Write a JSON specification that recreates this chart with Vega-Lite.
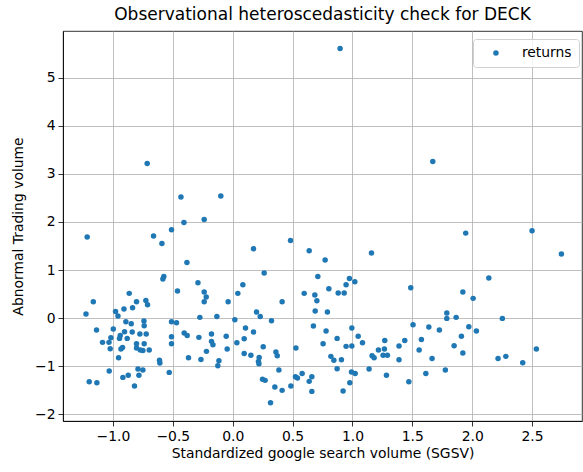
{
  "$schema": "https://vega.github.io/schema/vega-lite/v6.json",
  "autosize": "none",
  "width": 519,
  "height": 390,
  "padding": {"left": 63, "top": 31, "right": 1, "bottom": 51},
  "background": "white",
  "title": {
    "text": "Observational heteroscedasticity check for DECK",
    "font": "DejaVu Sans",
    "fontSize": 17,
    "fontWeight": "normal",
    "color": "black",
    "offset": 7
  },
  "config": {
    "view": {"stroke": "black", "strokeWidth": 0.8},
    "axis": {
      "labelFont": "DejaVu Sans",
      "titleFont": "DejaVu Sans",
      "labelFontSize": 13.9,
      "titleFontSize": 13.9,
      "titleFontWeight": "normal",
      "labelColor": "black",
      "titleColor": "black",
      "domainColor": "black",
      "domainWidth": 0.8,
      "tickColor": "black",
      "tickWidth": 0.8,
      "tickSize": 5,
      "labelPadding": 3,
      "gridColor": "#b0b0b0",
      "gridWidth": 0.8
    }
  },
  "data": {
    "values": [
      {"x": 0.897, "y": 5.607, "series": "returns"},
      {"x": -0.714, "y": 3.216, "series": "returns"},
      {"x": -0.432, "y": 2.516, "series": "returns"},
      {"x": -0.407, "y": 1.99, "series": "returns"},
      {"x": -0.511, "y": 1.838, "series": "returns"},
      {"x": -1.215, "y": 1.684, "series": "returns"},
      {"x": -0.661, "y": 1.705, "series": "returns"},
      {"x": -0.591, "y": 1.553, "series": "returns"},
      {"x": -0.382, "y": 1.158, "series": "returns"},
      {"x": -0.575, "y": 0.867, "series": "returns"},
      {"x": -0.583, "y": 0.811, "series": "returns"},
      {"x": -0.099, "y": 2.537, "series": "returns"},
      {"x": -0.238, "y": 2.052, "series": "returns"},
      {"x": 0.483, "y": 1.615, "series": "returns"},
      {"x": 0.174, "y": 1.442, "series": "returns"},
      {"x": 0.639, "y": 1.4, "series": "returns"},
      {"x": 0.263, "y": 0.936, "series": "returns"},
      {"x": -0.29, "y": 0.735, "series": "returns"},
      {"x": 0.085, "y": 0.694, "series": "returns"},
      {"x": 1.671, "y": 3.258, "series": "returns"},
      {"x": 1.159, "y": 1.352, "series": "returns"},
      {"x": 0.772, "y": 1.206, "series": "returns"},
      {"x": 0.711, "y": 0.867, "series": "returns"},
      {"x": 0.975, "y": 0.825, "series": "returns"},
      {"x": 1.02, "y": 0.757, "series": "returns"},
      {"x": 0.947, "y": 0.694, "series": "returns"},
      {"x": 1.946, "y": 1.767, "series": "returns"},
      {"x": 2.5, "y": 1.817, "series": "returns"},
      {"x": 2.745, "y": 1.331, "series": "returns"},
      {"x": 2.139, "y": 0.832, "series": "returns"},
      {"x": -0.461, "y": 0.561, "series": "returns"},
      {"x": -0.864, "y": 0.514, "series": "returns"},
      {"x": -1.164, "y": 0.341, "series": "returns"},
      {"x": -0.803, "y": 0.341, "series": "returns"},
      {"x": -0.725, "y": 0.368, "series": "returns"},
      {"x": -0.711, "y": 0.279, "series": "returns"},
      {"x": -0.908, "y": 0.187, "series": "returns"},
      {"x": -0.836, "y": 0.216, "series": "returns"},
      {"x": -0.978, "y": 0.139, "series": "returns"},
      {"x": -1.225, "y": 0.083, "series": "returns"},
      {"x": -0.958, "y": 0.042, "series": "returns"},
      {"x": -0.892, "y": -0.075, "series": "returns"},
      {"x": -0.847, "y": -0.117, "series": "returns"},
      {"x": -0.741, "y": -0.062, "series": "returns"},
      {"x": -0.739, "y": -0.158, "series": "returns"},
      {"x": -0.511, "y": -0.075, "series": "returns"},
      {"x": -0.469, "y": -0.096, "series": "returns"},
      {"x": -1.137, "y": -0.249, "series": "returns"},
      {"x": -0.997, "y": -0.229, "series": "returns"},
      {"x": -0.903, "y": -0.283, "series": "returns"},
      {"x": -0.839, "y": -0.291, "series": "returns"},
      {"x": -0.939, "y": -0.36, "series": "returns"},
      {"x": -0.775, "y": -0.333, "series": "returns"},
      {"x": -0.722, "y": -0.333, "series": "returns"},
      {"x": -0.405, "y": -0.312, "series": "returns"},
      {"x": -0.38, "y": -0.36, "series": "returns"},
      {"x": -0.511, "y": -0.387, "series": "returns"},
      {"x": -1.017, "y": -0.408, "series": "returns"},
      {"x": -0.945, "y": -0.422, "series": "returns"},
      {"x": -0.881, "y": -0.422, "series": "returns"},
      {"x": -1.087, "y": -0.505, "series": "returns"},
      {"x": -1.033, "y": -0.505, "series": "returns"},
      {"x": -0.803, "y": -0.532, "series": "returns"},
      {"x": -0.739, "y": -0.532, "series": "returns"},
      {"x": -0.511, "y": -0.532, "series": "returns"},
      {"x": -1.023, "y": -0.636, "series": "returns"},
      {"x": -0.92, "y": -0.609, "series": "returns"},
      {"x": -0.933, "y": -0.644, "series": "returns"},
      {"x": -0.803, "y": -0.624, "series": "returns"},
      {"x": -0.772, "y": -0.665, "series": "returns"},
      {"x": -0.75, "y": -0.672, "series": "returns"},
      {"x": -0.697, "y": -0.665, "series": "returns"},
      {"x": -0.953, "y": -0.823, "series": "returns"},
      {"x": -0.611, "y": -0.879, "series": "returns"},
      {"x": -0.608, "y": -0.936, "series": "returns"},
      {"x": -0.369, "y": -0.823, "series": "returns"},
      {"x": -1.031, "y": -1.102, "series": "returns"},
      {"x": -0.791, "y": -1.06, "series": "returns"},
      {"x": -0.75, "y": -1.081, "series": "returns"},
      {"x": -0.53, "y": -1.129, "series": "returns"},
      {"x": -0.783, "y": -1.191, "series": "returns"},
      {"x": -0.872, "y": -1.191, "series": "returns"},
      {"x": -0.917, "y": -1.233, "series": "returns"},
      {"x": -1.198, "y": -1.323, "series": "returns"},
      {"x": -1.134, "y": -1.344, "series": "returns"},
      {"x": -0.82, "y": -1.413, "series": "returns"},
      {"x": -0.238, "y": 0.541, "series": "returns"},
      {"x": -0.221, "y": 0.437, "series": "returns"},
      {"x": -0.238, "y": 0.341, "series": "returns"},
      {"x": 0.043, "y": 0.514, "series": "returns"},
      {"x": -0.038, "y": 0.341, "series": "returns"},
      {"x": 0.413, "y": 0.341, "series": "returns"},
      {"x": 0.597, "y": 0.514, "series": "returns"},
      {"x": 0.686, "y": 0.478, "series": "returns"},
      {"x": 0.199, "y": 0.125, "series": "returns"},
      {"x": 0.23, "y": 0.035, "series": "returns"},
      {"x": -0.274, "y": 0.015, "series": "returns"},
      {"x": -0.132, "y": 0.035, "series": "returns"},
      {"x": 0.018, "y": -0.033, "series": "returns"},
      {"x": 0.324, "y": -0.054, "series": "returns"},
      {"x": 0.674, "y": -0.166, "series": "returns"},
      {"x": 0.107, "y": -0.208, "series": "returns"},
      {"x": 0.174, "y": -0.291, "series": "returns"},
      {"x": -0.282, "y": -0.401, "series": "returns"},
      {"x": -0.177, "y": -0.333, "series": "returns"},
      {"x": -0.054, "y": -0.38, "series": "returns"},
      {"x": -0.177, "y": -0.484, "series": "returns"},
      {"x": -0.165, "y": -0.553, "series": "returns"},
      {"x": 0.096, "y": -0.428, "series": "returns"},
      {"x": 0.035, "y": -0.512, "series": "returns"},
      {"x": 0.255, "y": -0.595, "series": "returns"},
      {"x": 0.528, "y": -0.624, "series": "returns"},
      {"x": -0.046, "y": -0.644, "series": "returns"},
      {"x": -0.219, "y": -0.692, "series": "returns"},
      {"x": 0.096, "y": -0.734, "series": "returns"},
      {"x": 0.152, "y": -0.775, "series": "returns"},
      {"x": 0.221, "y": -0.817, "series": "returns"},
      {"x": 0.361, "y": -0.707, "series": "returns"},
      {"x": 0.372, "y": -0.782, "series": "returns"},
      {"x": -0.265, "y": -0.859, "series": "returns"},
      {"x": -0.115, "y": -0.886, "series": "returns"},
      {"x": -0.124, "y": -0.99, "series": "returns"},
      {"x": 0.215, "y": -0.9, "series": "returns"},
      {"x": 0.219, "y": -0.948, "series": "returns"},
      {"x": 0.386, "y": -1.081, "series": "returns"},
      {"x": 0.249, "y": -1.274, "series": "returns"},
      {"x": 0.271, "y": -1.295, "series": "returns"},
      {"x": 0.352, "y": -1.434, "series": "returns"},
      {"x": 0.413, "y": -1.503, "series": "returns"},
      {"x": 0.486, "y": -1.413, "series": "returns"},
      {"x": 0.524, "y": -1.218, "series": "returns"},
      {"x": 0.541, "y": -1.247, "series": "returns"},
      {"x": 0.58, "y": -1.15, "series": "returns"},
      {"x": 0.639, "y": -1.316, "series": "returns"},
      {"x": 0.661, "y": -1.218, "series": "returns"},
      {"x": 0.661, "y": -1.524, "series": "returns"},
      {"x": 0.316, "y": -1.759, "series": "returns"},
      {"x": 0.703, "y": 0.362, "series": "returns"},
      {"x": 0.803, "y": 0.611, "series": "returns"},
      {"x": 0.881, "y": 0.52, "series": "returns"},
      {"x": 0.931, "y": 0.52, "series": "returns"},
      {"x": 1.487, "y": 0.632, "series": "returns"},
      {"x": 0.689, "y": 0.146, "series": "returns"},
      {"x": 0.791, "y": 0.125, "series": "returns"},
      {"x": 0.78, "y": -0.27, "series": "returns"},
      {"x": 0.995, "y": -0.208, "series": "returns"},
      {"x": 1.048, "y": -0.38, "series": "returns"},
      {"x": 1.084, "y": -0.512, "series": "returns"},
      {"x": 0.872, "y": -0.422, "series": "returns"},
      {"x": 0.755, "y": -0.532, "series": "returns"},
      {"x": 0.947, "y": -0.588, "series": "returns"},
      {"x": 0.995, "y": -0.582, "series": "returns"},
      {"x": 0.82, "y": -0.796, "series": "returns"},
      {"x": 0.845, "y": -0.879, "series": "returns"},
      {"x": 0.908, "y": -0.865, "series": "returns"},
      {"x": 0.872, "y": -1.052, "series": "returns"},
      {"x": 0.992, "y": -1.123, "series": "returns"},
      {"x": 1.023, "y": -1.15, "series": "returns"},
      {"x": 0.978, "y": -1.343, "series": "returns"},
      {"x": 0.922, "y": -1.518, "series": "returns"},
      {"x": 1.506, "y": -0.137, "series": "returns"},
      {"x": 1.638, "y": -0.187, "series": "returns"},
      {"x": 1.726, "y": -0.249, "series": "returns"},
      {"x": 1.27, "y": -0.464, "series": "returns"},
      {"x": 1.437, "y": -0.464, "series": "returns"},
      {"x": 1.576, "y": -0.443, "series": "returns"},
      {"x": 1.389, "y": -0.582, "series": "returns"},
      {"x": 1.217, "y": -0.665, "series": "returns"},
      {"x": 1.267, "y": -0.644, "series": "returns"},
      {"x": 1.557, "y": -0.665, "series": "returns"},
      {"x": 1.164, "y": -0.782, "series": "returns"},
      {"x": 1.181, "y": -0.823, "series": "returns"},
      {"x": 1.256, "y": -0.775, "series": "returns"},
      {"x": 1.292, "y": -0.775, "series": "returns"},
      {"x": 1.389, "y": -0.865, "series": "returns"},
      {"x": 1.665, "y": -0.838, "series": "returns"},
      {"x": 1.139, "y": -1.06, "series": "returns"},
      {"x": 1.284, "y": -1.191, "series": "returns"},
      {"x": 1.471, "y": -1.323, "series": "returns"},
      {"x": 1.613, "y": -1.15, "series": "returns"},
      {"x": 1.776, "y": -1.081, "series": "returns"},
      {"x": 1.788, "y": 0.104, "series": "returns"},
      {"x": 1.788, "y": -0.006, "series": "returns"},
      {"x": 1.922, "y": 0.541, "series": "returns"},
      {"x": 2.008, "y": 0.41, "series": "returns"},
      {"x": 1.866, "y": 0.015, "series": "returns"},
      {"x": 2.252, "y": -0.006, "series": "returns"},
      {"x": 1.972, "y": -0.179, "series": "returns"},
      {"x": 2.035, "y": -0.27, "series": "returns"},
      {"x": 1.91, "y": -0.38, "series": "returns"},
      {"x": 1.849, "y": -0.574, "series": "returns"},
      {"x": 1.922, "y": -0.728, "series": "returns"},
      {"x": 2.216, "y": -0.838, "series": "returns"},
      {"x": 2.281, "y": -0.796, "series": "returns"},
      {"x": 2.422, "y": -0.927, "series": "returns"},
      {"x": 2.536, "y": -0.644, "series": "returns"}
    ]
  },
  "mark": {"type": "circle", "size": 30, "opacity": 1},
  "encoding": {
    "x": {
      "field": "x",
      "type": "quantitative",
      "title": "Standardized google search volume (SGSV)",
      "scale": {"domain": [-1.417, 2.917], "nice": false, "zero": false},
      "axis": {"values": [-1, -0.5, 0, 0.5, 1, 1.5, 2, 2.5], "format": ".1f", "titlePadding": 4}
    },
    "y": {
      "field": "y",
      "type": "quantitative",
      "title": "Abnormal Trading volume",
      "scale": {"domain": [-2.14, 5.97], "nice": false, "zero": false},
      "axis": {"values": [-2, -1, 0, 1, 2, 3, 4, 5], "format": "d", "titlePadding": 9}
    },
    "color": {
      "field": "series",
      "type": "nominal",
      "scale": {"range": ["#1f77b4"]},
      "legend": {
        "title": null,
        "orient": "none",
        "legendX": 410,
        "legendY": 8,
        "labelFont": "DejaVu Sans",
        "labelFontSize": 13.9,
        "labelColor": "black",
        "symbolType": "circle",
        "symbolSize": 30,
        "symbolOpacity": 1,
        "strokeColor": "#d0d0d0",
        "fillColor": "rgba(255,255,255,0.8)",
        "cornerRadius": 3,
        "padding": 7,
        "symbolOffset": 9,
        "labelOffset": 19
      }
    }
  }
}
